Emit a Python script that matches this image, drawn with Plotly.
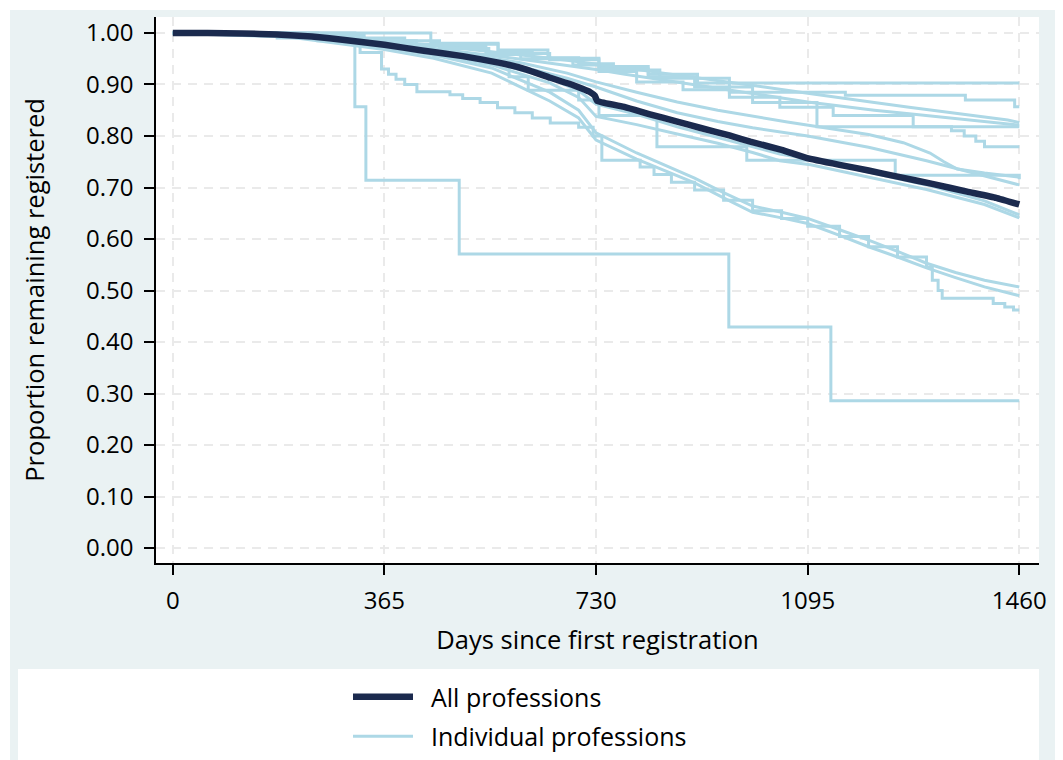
import plotly.graph_objects as go

# ---------------- data ----------------
tick_days = [0, 365, 730, 1095, 1460]
tick_props = [0.0, 0.1, 0.2, 0.3, 0.4, 0.5, 0.6, 0.7, 0.8, 0.9, 1.0]

all_days = [0, 60, 120, 180, 240, 300, 365, 430, 500, 564, 610, 651, 690, 720, 728, 732,
            780, 823, 870, 909, 960, 996, 1050, 1094, 1150, 1200, 1254, 1310, 1370, 1420, 1460]
all_surv = [1.0, 1.0, 0.999, 0.997, 0.993, 0.986, 0.977, 0.966, 0.955, 0.942, 0.929, 0.913,
            0.899, 0.885, 0.878, 0.868, 0.856, 0.842, 0.828, 0.816, 0.801, 0.789, 0.773, 0.757,
            0.744, 0.733, 0.720, 0.707, 0.692, 0.680, 0.667]

# individual professions
p01_days = [0, 314, 333, 494, 959, 1135, 1460]
p01_surv = [1.0, 0.857, 0.714, 0.571, 0.429, 0.286, 0.286]

p02_days = [0, 445, 561, 647, 735, 820, 905, 1460]
p02_surv = [1.0, 0.98, 0.967, 0.951, 0.935, 0.92, 0.903, 0.903]

p03_days = [0, 150, 300, 420, 540, 620, 700, 760, 840, 960, 1160, 1367, 1452, 1460]
p03_surv = [1.0, 0.995, 0.985, 0.975, 0.962, 0.952, 0.94, 0.928, 0.912, 0.885, 0.879, 0.87, 0.857, 0.857]

p04_days = [0, 100, 200, 300, 365, 430, 500, 560, 620, 680, 730, 780, 840, 900, 960, 1020,
            1095, 1150, 1210, 1270, 1330, 1390, 1440, 1460]
p04_surv = [1.0, 0.999, 0.995, 0.989, 0.984, 0.978, 0.97, 0.962, 0.955, 0.947, 0.94, 0.932,
            0.923, 0.914, 0.905, 0.895, 0.883, 0.874, 0.865, 0.856, 0.847, 0.838, 0.831, 0.826]

p05_days = [0, 100, 200, 300, 365, 430, 500, 560, 620, 680, 730, 780, 840, 900, 960, 1020,
            1095, 1150, 1210, 1270, 1330, 1390, 1440, 1460]
p05_surv = [1.0, 0.998, 0.993, 0.986, 0.98, 0.973, 0.964, 0.955, 0.946, 0.937, 0.929, 0.92,
            0.91, 0.9, 0.89, 0.879, 0.866, 0.858, 0.85, 0.843, 0.836, 0.829, 0.824, 0.821]

p06_days = [0, 210, 330, 460, 545, 600, 690, 735, 800, 880, 960, 1047, 1139, 1277, 1460]
p06_surv = [1.0, 0.995, 0.985, 0.97, 0.958, 0.95, 0.938, 0.925, 0.905, 0.89, 0.875, 0.856, 0.84, 0.818, 0.818]

p07_days = [0, 250, 400, 561, 650, 735, 820, 900, 1000, 1111, 1343, 1365, 1385, 1400, 1460]
p07_surv = [1.0, 0.99, 0.978, 0.96, 0.948, 0.93, 0.915, 0.895, 0.865, 0.818, 0.81, 0.8, 0.79, 0.779, 0.779]

p08_days = [0, 150, 300, 400, 500, 600, 680, 730, 800, 870, 940, 1000, 1060, 1130, 1200,
            1260, 1306, 1330, 1353, 1400, 1460]
p08_surv = [1.0, 0.997, 0.987, 0.975, 0.96, 0.942, 0.922, 0.905, 0.885, 0.866, 0.85, 0.838,
            0.827, 0.815, 0.803, 0.787, 0.767, 0.75, 0.736, 0.728, 0.72]

p09_days = [0, 150, 300, 400, 500, 600, 680, 730, 800, 870, 940, 1000, 1095, 1200, 1300, 1400, 1460]
p09_surv = [1.0, 0.996, 0.984, 0.971, 0.955, 0.935, 0.912, 0.895, 0.868, 0.845, 0.828, 0.816,
            0.8, 0.778, 0.752, 0.722, 0.705]

p10_days = [0, 180, 330, 450, 530, 580, 613, 700, 735, 835, 990, 1246, 1460]
p10_surv = [1.0, 0.99, 0.975, 0.955, 0.94, 0.915, 0.889, 0.87, 0.84, 0.779, 0.753, 0.724, 0.716]

p11_days = [0, 150, 300, 365, 450, 550, 650, 700, 730, 800, 870, 940, 1000, 1047, 1100, 1200, 1300, 1400, 1460]
p11_surv = [1.0, 0.998, 0.987, 0.979, 0.964, 0.944, 0.912, 0.888, 0.862, 0.842, 0.818, 0.797,
            0.78, 0.765, 0.755, 0.73, 0.705, 0.674, 0.647]

p12_days = [0, 150, 300, 365, 450, 550, 650, 700, 730, 800, 870, 940, 1000, 1047, 1100, 1200, 1300, 1400, 1460]
p12_surv = [1.0, 0.997, 0.985, 0.976, 0.96, 0.938, 0.903, 0.875, 0.838, 0.822, 0.804, 0.786,
            0.768, 0.752, 0.744, 0.72, 0.696, 0.667, 0.641]

p13_days = [0, 150, 250, 323, 360, 372, 385, 400, 421, 478, 500, 530, 560, 590, 620, 651, 700,
            725, 740, 806, 830, 860, 900, 950, 1000, 1050, 1095, 1150, 1200, 1250, 1300, 1310,
            1320, 1327, 1415, 1435, 1450, 1460]
p13_surv = [1.0, 0.995, 0.985, 0.962, 0.93, 0.92, 0.91, 0.9, 0.886, 0.88, 0.873, 0.865, 0.855,
            0.845, 0.835, 0.825, 0.817, 0.8, 0.753, 0.74, 0.725, 0.71, 0.695, 0.675, 0.655, 0.64,
            0.625, 0.605, 0.585, 0.565, 0.545, 0.52, 0.5, 0.485, 0.475, 0.468, 0.462, 0.462]

p14_days = [0, 200, 365, 450, 550, 650, 700, 730, 800, 850, 900, 950, 1000, 1050, 1095, 1150,
            1200, 1250, 1300, 1350, 1400, 1460]
p14_surv = [1.0, 0.993, 0.972, 0.957, 0.932, 0.885, 0.85, 0.806, 0.767, 0.742, 0.718, 0.69,
            0.664, 0.652, 0.64, 0.618, 0.598, 0.576, 0.553, 0.535, 0.52, 0.507]

p15_days = [0, 200, 365, 450, 550, 650, 700, 730, 800, 850, 900, 950, 1000, 1050, 1095, 1150,
            1200, 1250, 1300, 1350, 1400, 1460]
p15_surv = [1.0, 0.992, 0.968, 0.951, 0.922, 0.868, 0.835, 0.792, 0.755, 0.732, 0.709, 0.68,
            0.652, 0.641, 0.63, 0.607, 0.585, 0.565, 0.544, 0.525, 0.507, 0.49]

individual = [
    (p01_days, p01_surv, "hv"), (p02_days, p02_surv, "hv"), (p03_days, p03_surv, "hv"),
    (p04_days, p04_surv, "linear"), (p05_days, p05_surv, "linear"), (p06_days, p06_surv, "hv"),
    (p07_days, p07_surv, "hv"), (p08_days, p08_surv, "linear"), (p09_days, p09_surv, "linear"),
    (p10_days, p10_surv, "hv"), (p11_days, p11_surv, "linear"), (p12_days, p12_surv, "linear"),
    (p13_days, p13_surv, "hv"), (p14_days, p14_surv, "linear"), (p15_days, p15_surv, "linear"),
]

# ---------------- figure ----------------
# the page body adds an 8px margin, so the figure is laid out in (reference px - 8)
OFF = 8
W, H = 1063 - OFF, 760 - OFF
ML, MT = 156 - OFF, 17 - OFF
MR = W - (1039 - OFF)
MB = H - (563 - OFF)
PW, PH = W - ML - MR, H - MT - MB


def px_x(p):
    return (p - OFF - ML) / PW


def px_y(p):
    return (H - MB - (p - OFF)) / PH


LIGHT = "#ADD8E6"
NAVY = "#1B2A4E"
FONT = "Open Sans"
TS = 24

fig = go.Figure()
for i, (d, s, shp) in enumerate(individual):
    fig.add_trace(go.Scatter(
        x=d, y=s, mode="lines", line=dict(color=LIGHT, width=3, shape=shp),
        name="\u00a0\u00a0Individual professions", legendgroup="ind", legendrank=2,
        showlegend=(i == 0), hoverinfo="skip"))

fig.add_trace(go.Scatter(
    x=all_days, y=all_surv, mode="lines", line=dict(color=NAVY, width=6.5, shape="spline", smoothing=0.3),
    name="\u00a0\u00a0All professions", legendgroup="all", legendrank=1, hoverinfo="skip"))

axis_common = dict(
    showgrid=True, gridcolor="#EAEAEA", gridwidth=1.5, griddash="9px,7px",
    showline=True, linecolor="black", linewidth=1.5, mirror=False,
    ticks="outside", tickcolor="black", tickwidth=1.5, ticklen=10,
    zeroline=False, tickfont=dict(family=FONT, size=TS, color="black"),
)

fig.update_xaxes(range=[-29, 1494], tickvals=tick_days, ticktext=[str(t) for t in tick_days],
                 ticklabelstandoff=5,
                 title=dict(text="Days since first registration", font=dict(family=FONT, size=25.5, color="black"),
                            standoff=17), **axis_common)
fig.update_yaxes(range=[-0.029, 1.031], tickvals=tick_props, tickformat=".2f",
                 ticklabelstandoff=6,
                 title=dict(text="Proportion remaining registered", font=dict(family=FONT, size=25.5, color="black"),
                            standoff=34), **axis_common)

shapes = [
    # white outer strips (top and left)
    dict(type="rect", xref="paper", yref="paper", x0=px_x(0), x1=px_x(1063), y0=px_y(0), y1=px_y(10),
         fillcolor="white", line=dict(width=0), layer="below"),
    dict(type="rect", xref="paper", yref="paper", x0=px_x(0), x1=px_x(10), y0=px_y(760), y1=px_y(0),
         fillcolor="white", line=dict(width=0), layer="below"),
    # legend box
    dict(type="rect", xref="paper", yref="paper", x0=px_x(18), x1=px_x(1039), y0=px_y(760), y1=px_y(669),
         fillcolor="white", line=dict(width=0), layer="below"),
]

fig.update_layout(
    width=W, height=H,
    margin=dict(l=ML, r=MR, t=MT, b=MB, autoexpand=False),
    paper_bgcolor="#EAF2F3", plot_bgcolor="white",
    font=dict(family=FONT, color="black"),
    shapes=shapes,
    showlegend=True,
    legend=dict(x=px_x(348), y=px_y(674), xanchor="left", yanchor="top",
                bgcolor="rgba(0,0,0,0)", borderwidth=0, itemwidth=60,
                tracegroupgap=4, font=dict(family=FONT, size=25, color="black"),
                traceorder="grouped"),
)

fig.write_html("out.html")
